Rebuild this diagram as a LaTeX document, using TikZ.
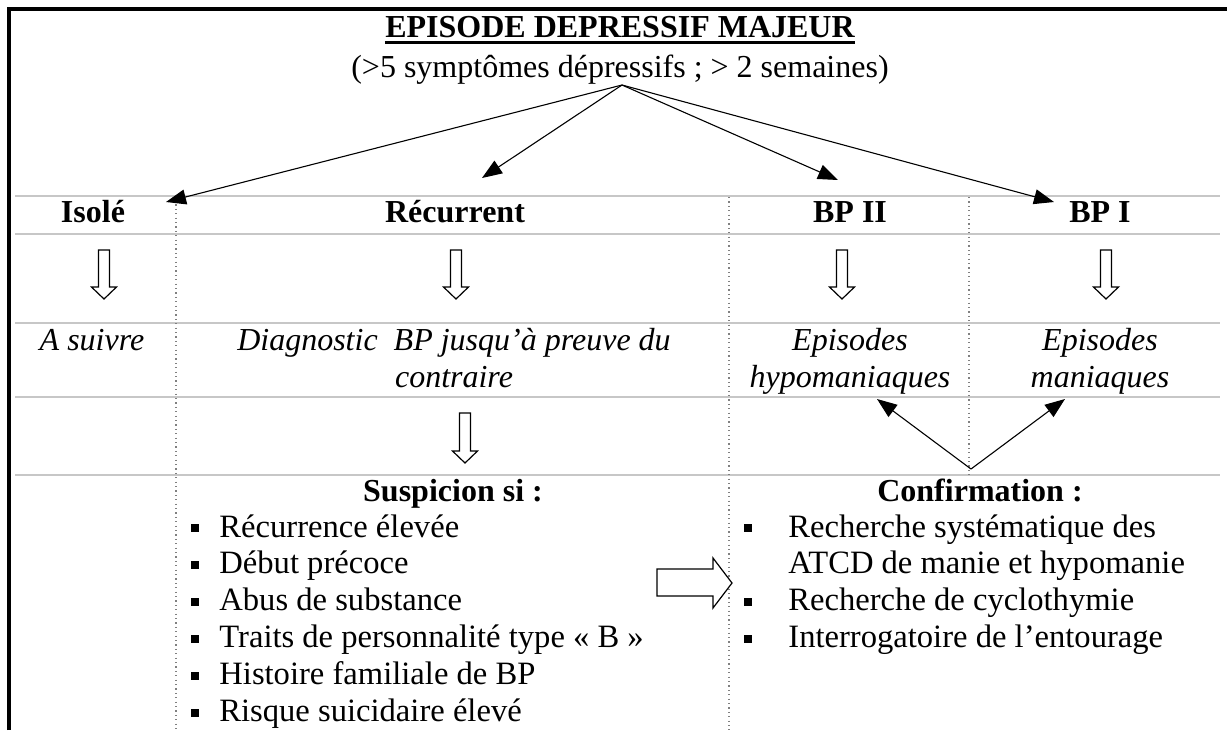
\documentclass[tikz,border=0pt]{standalone}
\usepackage{fontspec}
\setmainfont{Liberation Serif}
\usetikzlibrary{arrows.meta}
\newcommand{\dnblock}[3]{% center x, top y, total length
  \draw[blockarrow] ({#1-5.5},{#2}) -- ({#1+5.5},{#2}) -- ({#1+5.5},{#2+#3-12}) -- ({#1+12.5},{#2+#3-12}) -- ({#1},{#2+#3}) -- ({#1-12.5},{#2+#3-12}) -- ({#1-5.5},{#2+#3-12}) -- cycle;}
\begin{document}
\begin{tikzpicture}[x=0.5pt,y=-0.5pt,
  gridline/.style={draw=black!22, line width=1pt},
  dotline/.style={draw=black!50, line width=0.6pt, dash pattern=on 0.6pt off 1.6pt},
  conn/.style={-{Triangle[length=10pt,width=7.5pt]}, line width=0.55pt},
  blockarrow/.style={draw=black, fill=white, line width=0.6pt},
  txt/.style={font=\fontsize{16}{18.75}\selectfont, inner sep=0pt, anchor=base},
  hdr/.style={txt, font=\fontsize{16}{18.75}\selectfont\bfseries},
  ital/.style={txt, font=\fontsize{16}{18.75}\selectfont\itshape},
  itemtxt/.style={inner sep=0pt, anchor=base west, font=\fontsize{16.3}{18.75}\selectfont},
  bul/.style={fill=black, minimum size=4pt, inner sep=0pt},
]
\useasboundingbox (0,0) rectangle (1227,730);

% table grid
\foreach \yy in {196,234,323,397,475}
  \draw[gridline] (15,\yy) -- (1220,\yy);
\draw[dotline] (176,200) -- (176,730);
\draw[dotline] (729,197) -- (729,730);
\draw[dotline] (969,197) -- (969,475);

% frame
\draw[line width=2pt] (9,730) -- (9,9) -- (1227,9);

% title
\node[hdr] (title) at (620,37) {EPISODE DEPRESSIF MAJEUR};
\draw[line width=1.5pt] ([yshift=-2.6pt]title.base west) -- ([yshift=-2.6pt]title.base east);
\node[txt] (sub) at (620,77) {(>5 symptômes dépressifs ; > 2 semaines)};

% main arrows
\coordinate (src) at (622,85);
\coordinate (tIso) at (166,202);
\coordinate (tRec) at (482,178);
\coordinate (tBPb) at (838,180);
\coordinate (tBPa) at (1054,202);
\draw[conn] (src) -- (tIso);
\draw[conn] (src) -- (tRec);
\draw[conn] (src) -- (tBPb);
\draw[conn] (src) -- (tBPa);

% header row
\node[hdr] (iso) at (93,222) {Isolé};
\node[hdr] (rec) at (455,222) {Récurrent};
\node[hdr] (bp2) at (850,222) {BP II};
\node[hdr] (bp1) at (1100,222) {BP I};

% down block arrows
\dnblock{104}{250}{49}
\dnblock{456}{250}{49}
\dnblock{842}{250}{49}
\dnblock{1106}{250}{49}
\dnblock{465}{413}{50}

% italic row
\node[ital] (asuivre) at (92,350) {A suivre};
\node[ital] (diagA) at (454,350) {Diagnostic\ \ BP jusqu’à preuve du};
\node[ital] (diagB) at (454,387.5) {contraire};
\node[ital] (epiA) at (850,350) {Episodes};
\node[ital] (hypo) at (850,387.5) {hypomaniaques};
\node[ital] (epiB) at (1100,350) {Episodes};
\node[ital] (mani) at (1100,387.5) {maniaques};

% confirmation arrows
\coordinate (csrc) at (971,469);
\coordinate (tHypo) at (877,399);
\coordinate (tMan) at (1065,399);
\draw[conn] (csrc) -- (tHypo);
\draw[conn] (csrc) -- (tMan);

% lists
\node[hdr] (susp) at (453,501) {Suspicion si :};
\node[hdr] (conf) at (980,501) {Confirmation :};

\foreach \t [count=\i from 0] in {Récurrence élevée, Début précoce, Abus de substance, Traits de personnalité type «~B~», Histoire familiale de BP, Risque suicidaire élevé} {
  \node[bul] at (195,{528+36.9*\i}) {};
  \node[itemtxt] at (219,{537+36.9*\i}) {\t};
}

\node[bul] (b1) at (748,528) {};
\node[itemtxt] (c1) at (788,537) {Recherche systématique des};
\node[itemtxt] (c2) at (788,573.9) {ATCD de manie et hypomanie};
\node[bul] (b3) at (748,601.8) {};
\node[itemtxt] (c3) at (788,610.8) {Recherche de cyclothymie};
\node[bul] (b4) at (748,638.7) {};
\node[itemtxt] (c4) at (788,647.7) {Interrogatoire de l’entourage};

% right block arrow
\draw[blockarrow] (657,569) -- (713,569) -- (713,558) -- (732,583) -- (713,608) -- (713,596) -- (657,596) -- cycle;
\end{tikzpicture}
\end{document}
